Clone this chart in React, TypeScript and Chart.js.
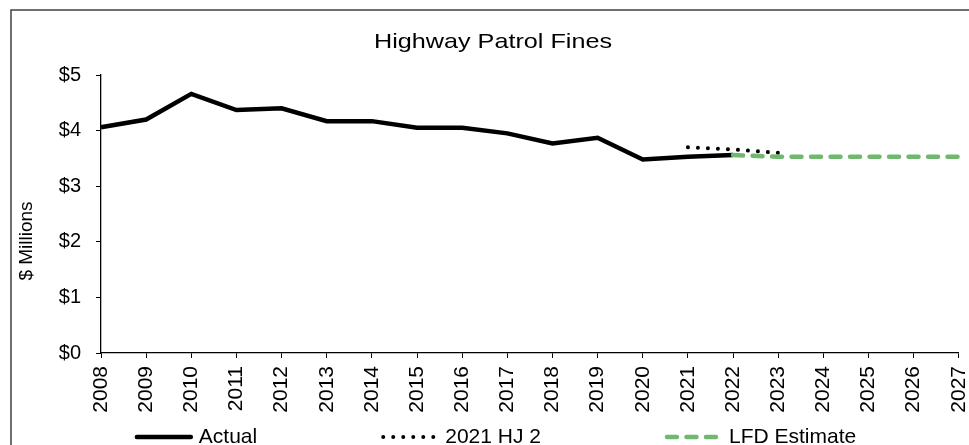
import React, { useEffect, useRef } from 'react';
import { Chart, registerables } from 'chart.js';

Chart.register(...registerables);

// ---------- data ----------
const years = [
  '2008', '2009', '2010', '2011', '2012', '2013', '2014', '2015', '2016', '2017',
  '2018', '2019', '2020', '2021', '2022', '2023', '2024', '2025', '2026', '2027',
];
const actual = [4.06, 4.2, 4.66, 4.37, 4.4, 4.17, 4.17, 4.05, 4.05, 3.95, 3.77, 3.87, 3.48, 3.53, 3.56, null, null, null, null, null];
const hj2 = [null, null, null, null, null, null, null, null, null, null, null, null, null, 3.7, 3.66, 3.6, null, null, null, null];
const lfdEstimate = [null, null, null, null, null, null, null, null, null, null, null, null, null, null, 3.56, 3.53, 3.53, 3.53, 3.53, 3.53];
const seriesNames = ['Actual', '2021 HJ 2', 'LFD Estimate'];
const yMin = 0;
const yMax = 5;
const yStep = 1;
const chartTitle = 'Highway Patrol Fines';
const yTitle = '$ Millions';

const FONT = '"Liberation Sans", Arial, sans-serif';
const GREEN = '#70B86E';

const decorPlugin = {
  id: 'decor',
  beforeDraw(chart: any) {
    const ctx = chart.ctx;
    ctx.save();
    ctx.strokeStyle = '#404040';
    ctx.lineWidth = 1.5;
    ctx.strokeRect(11, 10, chart.width + 50, chart.height + 50);
    ctx.restore();
  },
  afterDraw(chart: any) {
    const ctx = chart.ctx;
    // Title (slightly widened like the original rendering)
    ctx.save();
    ctx.fillStyle = '#000';
    ctx.font = `21px ${FONT}`;
    ctx.textAlign = 'center';
    ctx.textBaseline = 'alphabetic';
    ctx.translate(493, 48.3);
    ctx.scale(1.2, 1);
    ctx.fillText(chartTitle, 0, 0);
    ctx.restore();

    // Y axis title
    ctx.save();
    ctx.fillStyle = '#000';
    ctx.font = `19px ${FONT}`;
    ctx.textAlign = 'center';
    ctx.textBaseline = 'alphabetic';
    ctx.translate(32, 241);
    ctx.rotate(-Math.PI / 2);
    ctx.fillText(yTitle, 0, 0);
    ctx.restore();

    // Legend
    ctx.save();
    ctx.font = `21px ${FONT}`;
    const sample = 54;
    const gapText = 8;
    const gapItem = 126;
    const datasets = chart.data.datasets;
    const widths = datasets.map((d: any) => sample + gapText + ctx.measureText(d.label).width);
    const total = widths.reduce((a: number, b: number) => a + b, 0) + gapItem * (datasets.length - 1);
    let x = 496.5 - total / 2;
    const yLine = 437;
    const yText = 443.3;
    datasets.forEach((d: any, i: number) => {
      ctx.save();
      ctx.strokeStyle = d.borderColor;
      ctx.lineWidth = d.borderWidth;
      ctx.lineCap = 'round';
      ctx.setLineDash(d.borderDash || []);
      ctx.beginPath();
      ctx.moveTo(x, yLine);
      ctx.lineTo(x + sample, yLine);
      ctx.stroke();
      ctx.restore();
      ctx.fillStyle = '#000';
      ctx.textAlign = 'left';
      ctx.textBaseline = 'alphabetic';
      ctx.fillText(d.label, x + sample + gapText, yText);
      x += widths[i] + gapItem;
    });
    ctx.restore();
  },
};

export default function App() {
  const ref = useRef<HTMLCanvasElement>(null);

  useEffect(() => {
    if (!ref.current) return;
    const chart = new Chart(ref.current, {
      type: 'line',
      data: {
        labels: years,
        datasets: [
          {
            label: seriesNames[0],
            data: actual,
            borderColor: '#000000',
            backgroundColor: '#000000',
            borderWidth: 4.5,
            borderCapStyle: 'butt',
            borderJoinStyle: 'miter',
            pointRadius: 0,
            tension: 0,
            order: 3,
          },
          {
            label: seriesNames[1],
            data: hj2,
            borderColor: '#000000',
            backgroundColor: '#000000',
            borderWidth: 4,
            borderCapStyle: 'round',
            borderDash: [0.01, 10],
            pointRadius: 0,
            tension: 0,
            order: 2,
          },
          {
            label: seriesNames[2],
            data: lfdEstimate,
            borderColor: GREEN,
            backgroundColor: GREEN,
            borderWidth: 4.5,
            borderCapStyle: 'round',
            borderDash: [10, 9.5],
            pointRadius: 0,
            tension: 0,
            order: 1,
          },
        ],
      },
      options: {
        responsive: false,
        animation: false,
        events: [],
        layout: { padding: { top: 75, left: 0, right: 29, bottom: 57 } },
        plugins: {
          legend: { display: false },
          title: { display: false },
          tooltip: { enabled: false },
        },
        scales: {
          x: {
            type: 'category',
            offset: false,
            grid: {
              display: true,
              drawOnChartArea: false,
              drawTicks: true,
              tickLength: 5,
              color: '#000000',
              lineWidth: 1,
            },
            border: { display: true, color: '#000000', width: 1.3 },
            ticks: {
              autoSkip: false,
              maxRotation: 90,
              minRotation: 90,
              padding: 8,
              color: '#000000',
              font: { family: FONT, size: 21 },
            },
            afterFit(scale: any) {
              scale.height = 60;
            },
          },
          y: {
            min: yMin,
            max: yMax,
            grid: {
              display: true,
              drawOnChartArea: false,
              drawTicks: true,
              tickLength: 5,
              color: '#000000',
              lineWidth: 1,
            },
            border: { display: true, color: '#000000', width: 1.3 },
            ticks: {
              stepSize: yStep,
              padding: 15,
              color: '#000000',
              font: { family: FONT, size: 20 },
              callback: (v: any) => '$' + v,
            },
            afterFit(scale: any) {
              scale.width = 101;
            },
          },
        },
      },
      plugins: [decorPlugin],
    });
    return () => chart.destroy();
  }, []);

  return (
    <div
      style={{
        position: 'fixed',
        left: 0,
        top: 0,
        width: 969,
        height: 445,
        overflow: 'hidden',
        background: '#ffffff',
      }}
    >
      <canvas ref={ref} width={992} height={470} style={{ display: 'block', width: 992, height: 470 }} />
    </div>
  );
}
